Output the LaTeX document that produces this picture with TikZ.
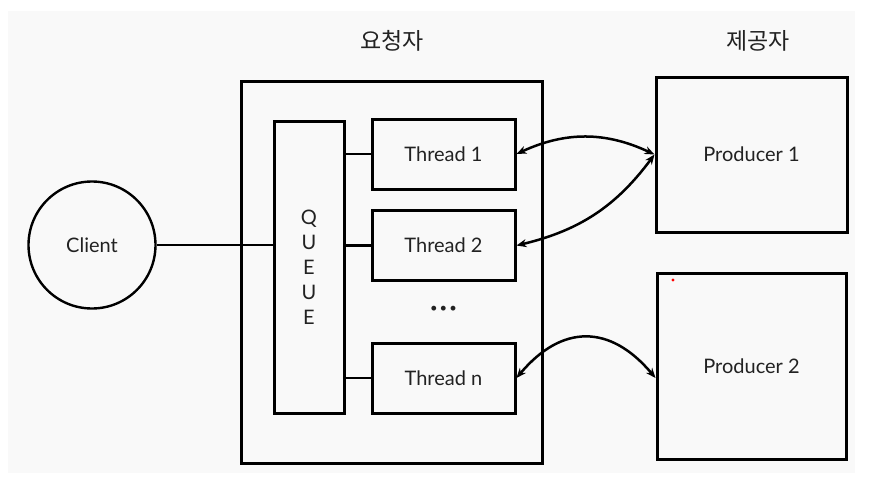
\documentclass[tikz,border=0pt]{standalone}
\usepackage{fontspec}
\setsansfont{Lato}
\newfontfamily\krfont{Noto Sans CJK KR}
\usetikzlibrary{arrows.meta}
\definecolor{bggray}{HTML}{F9F9F9}
\definecolor{inkgray}{HTML}{222222}
\tikzset{
  box/.style={draw=black, line width=3pt, inner sep=0pt},
  threadbox/.style={box, minimum width=143pt, minimum height=70pt},
  link/.style={line width=2.5pt, {Stealth[length=10pt,width=8pt]}-{Stealth[length=10pt,width=8pt]}},
  title/.style={font=\krfont\fontsize{23}{26}\selectfont, text=inkgray}
}

\begin{document}
\begin{tikzpicture}[x=1pt, y=-1pt, font=\sffamily\fontsize{20}{23}\selectfont, text=inkgray]
\useasboundingbox (0,0) rectangle (870,493);
\fill[bggray] (8,11) rectangle (855,473);
\node[title] (req) at (392,41) {요청자}; \node[title] (prov) at (758,41) {제공자};
% requester side
\node[box, minimum width=301pt, minimum height=382pt] (outer) at (391.5,272) {};
\node[box, minimum width=70pt, minimum height=292pt, align=center] (queue) at (309,267) {Q\\[2pt]U\\[2pt]E\\[2pt]U\\[2pt]E};
\node[threadbox] (t1) at (443.5,154) {Thread 1};
\node[threadbox] (t2) at (443.5,245.5) {Thread 2};
\node (dots) at (443.5,309) {\fontsize{13}{13}\selectfont\textbullet\,\textbullet\,\textbullet};
\node[threadbox] (tn) at (443.5,378) {Thread n};
\draw[line width=2.8pt] (t1.west) -- (t1.west -| queue.east); \draw[line width=2.8pt] (t2.west) -- (t2.west -| queue.east); \draw[line width=2.8pt] (tn.west) -- (tn.west -| queue.east);
% client
\node[draw, circle, line width=2.4pt, minimum size=127pt, inner sep=0pt] (client) at (92,245) {Client};
\draw[line width=2.8pt] (client.east) -- (client.east -| queue.west);
% providers
\node[box, minimum width=191pt, minimum height=155pt] (p1) at (751.5,154.5) {Producer 1};
\node[box, minimum width=189pt, minimum height=186pt] (p2) at (751.5,366) {Producer 2};
\fill[red] (673,280) circle (1.6pt);
\coordinate (p2in) at (p2.west |- tn.east);
\draw[link] (t1.east) to[bend left=25] (p1.west);
\draw[link] (t2.east) to[bend right=20] (p1.west);
\draw[link] (tn.east) to[bend left=50, looseness=1.3] (p2in);
\end{tikzpicture}
\end{document}
